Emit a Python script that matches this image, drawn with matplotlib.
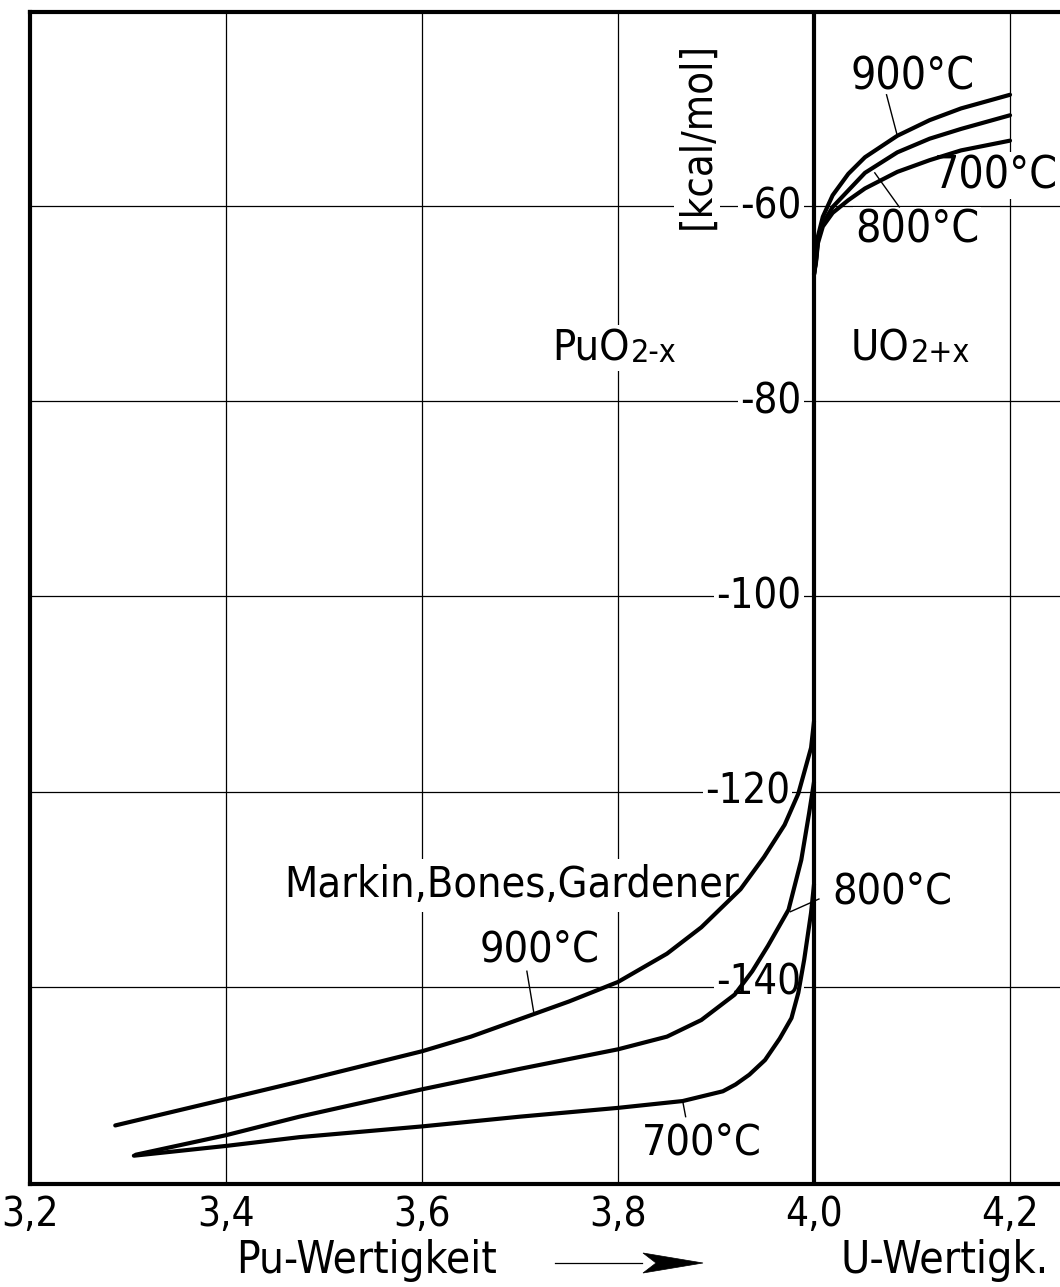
import matplotlib
matplotlib.use("Agg")
import matplotlib.pyplot as plt
from matplotlib import font_manager as fm
from matplotlib.patches import Polygon

# pick a narrow sans face if one is installed, else plain DejaVu Sans
narrow_family, narrow_stretch = None, 'normal'
preferred = ['Liberation Sans Narrow', 'DejaVu Sans', 'Roboto Condensed',
             'Open Sans Condensed', 'Noto Sans', 'Open Sans', 'Roboto']
entries = [(f.name, f.stretch) for f in fm.fontManager.ttflist]


def is_narrow(name, stretch):
    if 'Narrow' in name or 'Condensed' in name:
        return True
    if isinstance(stretch, str):
        return 'condensed' in stretch
    return stretch < 500


for fam in preferred:
    for name, stretch in entries:
        if name == fam and is_narrow(name, stretch):
            narrow_family = name
            narrow_stretch = stretch if not isinstance(stretch, int) else 'condensed'
            break
    if narrow_family:
        break

if narrow_family:
    plt.rcParams['font.family'] = [narrow_family, 'DejaVu Sans']
    if 'Narrow' not in narrow_family and 'Condensed' not in narrow_family:
        plt.rcParams['font.stretch'] = narrow_stretch
    k = 1.0
else:
    plt.rcParams['font.family'] = ['DejaVu Sans']
    k = 0.84

# Valence axis ticks and free-enthalpy gridlines
x_ticks = [3.2, 3.4, 3.6, 3.8, 4.0, 4.2]
x_tick_labels = ['3,2', '3,4', '3,6', '3,8', '4,0', '4,2']
y_ticks = [-140, -120, -100, -80, -60]
y_tick_labels = ['-140', '-120', '-100', '-80', '-60']

# PuO2-x branch (Markin, Bones, Gardener)
pu_900_x = [3.287, 3.4, 3.475, 3.6, 3.65, 3.7, 3.75, 3.8, 3.85, 3.885, 3.925, 3.949, 3.97, 3.984, 3.997, 4.0]
pu_900_y = [-154.2, -151.5, -149.7, -146.6, -145.1, -143.3, -141.5, -139.5, -136.6, -133.9, -130.0, -126.7, -123.4, -120.2, -115.5, -112.8]
pu_800_x = [3.308, 3.4, 3.475, 3.6, 3.7, 3.8, 3.85, 3.885, 3.919, 3.937, 3.953, 3.974, 3.987, 3.995, 4.0]
pu_800_y = [-157.2, -155.2, -153.3, -150.5, -148.4, -146.4, -145.1, -143.4, -140.8, -138.4, -135.8, -132.1, -127.0, -122.2, -119.0]
pu_700_x = [3.306, 3.4, 3.475, 3.6, 3.7, 3.8, 3.866, 3.907, 3.92, 3.934, 3.95, 3.965, 3.977, 3.984, 3.99, 3.997, 4.0]
pu_700_y = [-157.3, -156.3, -155.4, -154.3, -153.3, -152.4, -151.7, -150.7, -150.0, -149.0, -147.5, -145.3, -143.2, -140.6, -137.2, -132.4, -129.5]

# UO2+x branch
u_x = [4.0, 4.002, 4.004, 4.009, 4.019, 4.035, 4.052, 4.085, 4.118, 4.15, 4.2]
u_900_y = [-67.0, -65.5, -63.1, -61.1, -58.9, -56.7, -55.0, -52.8, -51.2, -50.0, -48.6]
u_800_y = [-67.0, -65.6, -63.5, -61.8, -60.1, -58.4, -56.6, -54.5, -53.1, -52.1, -50.7]
u_700_y = [-67.0, -65.8, -63.8, -62.1, -60.7, -59.4, -58.2, -56.5, -55.3, -54.3, -53.3]

W, H = 1060, 1287
fig = plt.figure(figsize=(W / 100, H / 100), dpi=100)
ax = fig.add_axes([30 / W, 1 - 1184 / H, 1030 / W, 1172 / H])
ax.set_xlim(3.2, 4.251)
ax.set_ylim(-160.2, -40.12)

for side in ['left', 'top', 'bottom']:
    ax.spines[side].set_linewidth(3.0)
ax.spines['right'].set_visible(False)

ax.set_xticks(x_ticks)
ax.set_xticklabels(x_tick_labels, fontsize=29 * k)
ax.set_yticks(y_ticks)
ax.set_yticklabels([])
ax.tick_params(axis='both', length=0)
ax.tick_params(axis='x', pad=8)
ax.grid(True, color='black', linewidth=0.9)
ax.set_axisbelow(True)

# phase boundary at valence 4
ax.axvline(4.0, color='black', linewidth=3.0, zorder=3)

lw = 3.0
for xs, ys in [(pu_900_x, pu_900_y), (pu_800_x, pu_800_y), (pu_700_x, pu_700_y)]:
    ax.plot(xs, ys, color='black', linewidth=lw, solid_capstyle='round',
            solid_joinstyle='round', zorder=4)
for ys in [u_900_y, u_800_y, u_700_y]:
    ax.plot(u_x, ys, color='black', linewidth=lw, solid_capstyle='round',
            solid_joinstyle='round', zorder=4)

white = dict(facecolor='white', edgecolor='none', pad=1.5)

# energy scale labels next to the boundary
for val, lab in zip(y_ticks, y_tick_labels):
    off = -17 if val == -120 else -9
    yy = val + 0.4 if val == -140 else val
    ax.annotate(lab, xy=(4.0, yy), xytext=(off, 0), textcoords='offset points',
                ha='right', va='center', fontsize=30 * k, bbox=white, zorder=2)

ax.text(3.881, -52.8, '[kcal/mol]', rotation=90, ha='center', va='center',
        fontsize=30 * k, bbox=white, zorder=2)

fs = 32 * k
ax.text(4.101, -46.8, '900°C', ha='center', va='center', fontsize=fs, zorder=5)
ax.text(4.185, -56.9, '700°C', ha='center', va='center', fontsize=fs, bbox=white, zorder=3)
ax.text(4.105, -62.5, '800°C', ha='center', va='center', fontsize=fs, bbox=white, zorder=2)
ax.plot([4.074, 4.085], [-48.6, -52.8], color='black', linewidth=1.0, zorder=4)
ax.plot([4.087, 4.062], [-60.1, -56.6], color='black', linewidth=1.0, zorder=4)

fs2 = 31 * k
ax.text(3.691, -129.6, 'Markin,Bones,Gardener', ha='center', va='center',
        fontsize=fs2, bbox=dict(facecolor='white', edgecolor='none', pad=4), zorder=2)
ax.text(3.720, -136.2, '900°C', ha='center', va='center', fontsize=fs2, bbox=white, zorder=2)
ax.plot([3.707, 3.714], [-138.4, -142.6], color='black', linewidth=1.0, zorder=4)

ax.text(3.885, -155.9, '700°C', ha='center', va='center', fontsize=fs2, bbox=white, zorder=2)
ax.plot([3.866, 3.869], [-151.7, -153.3], color='black', linewidth=1.0, zorder=4)

ax.text(4.080, -130.2, '800°C', ha='center', va='center', fontsize=fs2, bbox=white, zorder=2)
ax.plot([4.005, 3.976], [-131.0, -132.3], color='black', linewidth=1.0, zorder=4)

# phase names with smaller composition index
pu = ax.text(3.733, -75.8, 'PuO', ha='left', va='baseline', fontsize=fs2, bbox=white, zorder=2)
ax.annotate('2-x', xy=(1, 0), xycoords=pu, xytext=(1, 0), textcoords='offset points',
            ha='left', va='bottom', fontsize=23 * k, zorder=2)
uo = ax.text(4.037, -75.8, 'UO', ha='left', va='baseline', fontsize=fs2, zorder=2)
ax.annotate('2+x', xy=(1, 0), xycoords=uo, xytext=(1, 0), textcoords='offset points',
            ha='left', va='bottom', fontsize=23 * k, zorder=2)

# axis captions below the scale
fig.text(367 / W, 1 - 1260 / H, 'Pu-Wertigkeit', ha='center', va='center', fontsize=31.5 * k)
fig.text(945 / W, 1 - 1260 / H, 'U-Wertigk.', ha='center', va='center', fontsize=32 * k)
fig.add_artist(plt.Line2D([555 / W, 642 / W], [1 - 1263 / H, 1 - 1263 / H],
                          color='black', linewidth=0.9, transform=fig.transFigure))
head = [(643, 1253), (703, 1263), (643, 1273), (656, 1263)]
fig.add_artist(Polygon([(px / W, 1 - py / H) for px, py in head], closed=True,
                       facecolor='black', edgecolor='black', linewidth=0.5,
                       transform=fig.transFigure))

fig.savefig('out.png', dpi=100, facecolor='white')
